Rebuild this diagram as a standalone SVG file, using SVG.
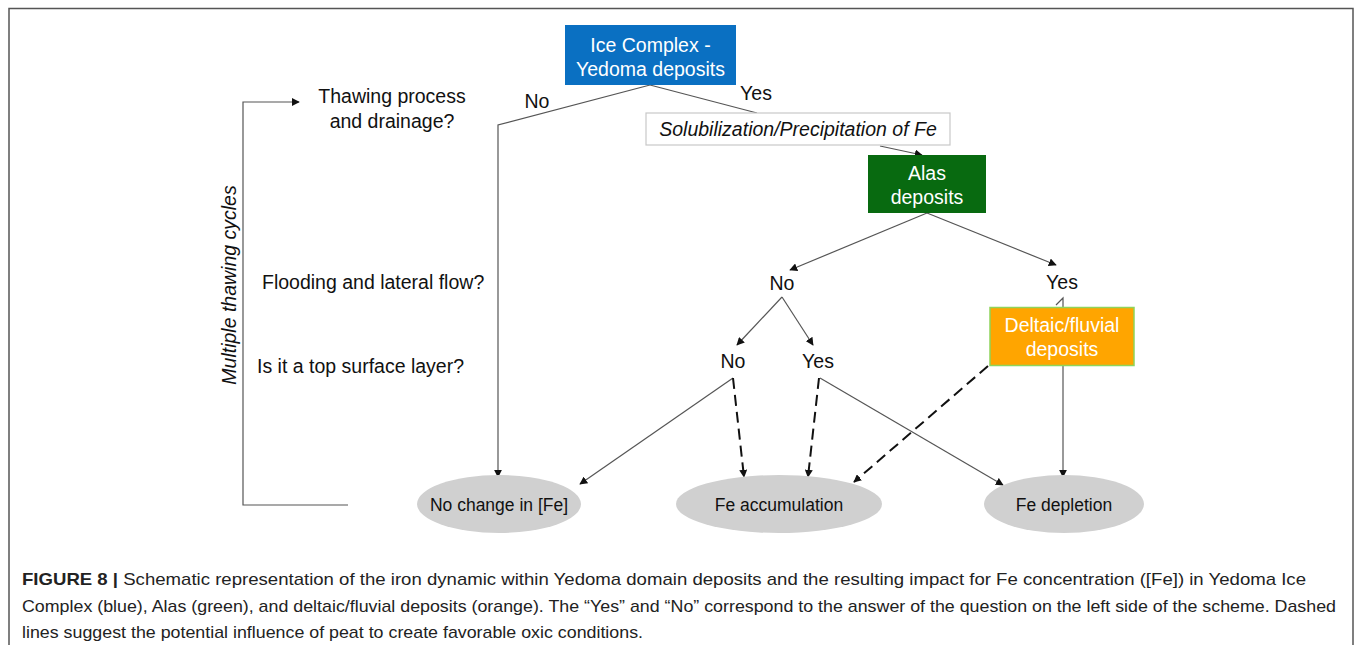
<svg xmlns="http://www.w3.org/2000/svg" width="1355" height="645" viewBox="0 0 1355 645">
<style>
.t{font-family:"Liberation Sans",Arial,sans-serif;font-size:19.5px;fill:#111}
.e{font-size:17.5px}
.w{fill:#fff}
.c{text-anchor:middle}
.it{font-style:italic}
.ln{stroke:#555;stroke-width:1.2;fill:none}
.ds{stroke:#111;stroke-width:2;fill:none;stroke-dasharray:11 6}
.cap{font-family:"Liberation Sans",Arial,sans-serif;font-size:17px;fill:#222}
.ell{fill:#d0d0d0}
</style>
<defs>
<marker id="ah" viewBox="0 0 10 10" refX="9" refY="5" markerWidth="8" markerHeight="8" markerUnits="userSpaceOnUse" orient="auto">
<path d="M0,0 L10,5 L0,10 z" fill="#111"/>
</marker>
</defs>
<rect x="0" y="0" width="1355" height="645" fill="#fff"/>
<rect x="9" y="8.5" width="1344" height="660" fill="none" stroke="#555" stroke-width="1.5"/>

<g id="connectors">
<polyline class="ln" points="650,85 498,125 498,477" marker-end="url(#ah)"/>
<line class="ln" x1="650" y1="85" x2="757" y2="113"/>
<line class="ln" x1="880" y1="146" x2="922" y2="155" marker-end="url(#ah)"/>
<line class="ln" x1="927" y1="213" x2="790" y2="270" marker-end="url(#ah)"/>
<line class="ln" x1="927" y1="213" x2="1056" y2="265" marker-end="url(#ah)"/>
<polyline class="ln" points="1056,305 1063,298 1063,307"/>
<line class="ln" x1="1063" y1="366" x2="1063" y2="477" marker-end="url(#ah)"/>
<line class="ds" x1="988" y1="366" x2="854" y2="482" marker-end="url(#ah)"/>
<line class="ln" x1="782" y1="297" x2="737" y2="345" marker-end="url(#ah)"/>
<line class="ln" x1="782" y1="297" x2="813" y2="345" marker-end="url(#ah)"/>
<line class="ln" x1="733" y1="378" x2="580" y2="484" marker-end="url(#ah)"/>
<line class="ds" x1="733" y1="378" x2="744" y2="477" marker-end="url(#ah)"/>
<line class="ds" x1="819" y1="378" x2="808" y2="477" marker-end="url(#ah)"/>
<line class="ln" x1="820" y1="378" x2="1003" y2="485" marker-end="url(#ah)"/>
<polyline class="ln" points="348,505 243,505 243,102 299,102" marker-end="url(#ah)"/>
</g>

<g id="ice-complex">
<rect x="565" y="25" width="171" height="60" fill="#0a70c2"/>
<text class="t w c" x="650.5" y="52">Ice Complex -</text>
<text class="t w c" x="650.5" y="76">Yedoma deposits</text>
</g>
<g id="solubilization">
<rect x="646" y="113" width="304" height="32" fill="#fff" stroke="#c8c8c8" stroke-width="1.2"/>
<text class="t it c" x="798" y="136">Solubilization/Precipitation of Fe</text>
</g>
<g id="alas">
<rect x="868" y="155" width="118" height="58" fill="#086a10"/>
<text class="t w c" x="927" y="180">Alas</text>
<text class="t w c" x="927" y="204">deposits</text>
</g>
<g id="deltaic">
<rect x="990" y="307.5" width="144" height="58" fill="#ffa500" stroke="#8fd45a" stroke-width="1.5"/>
<text class="t w c" x="1062" y="332">Deltaic/fluvial</text>
<text class="t w c" x="1062" y="356">deposits</text>
</g>

<g id="labels">
<text class="t c" x="392" y="103">Thawing process</text>
<text class="t c" x="392" y="128">and drainage?</text>
<text class="t" x="262" y="289">Flooding and lateral flow?</text>
<text class="t" x="257" y="373">Is it a top surface layer?</text>
<text class="t it c" transform="translate(236,285) rotate(-90)">Multiple thawing cycles</text>
<text class="t c" x="537" y="108">No</text>
<text class="t c" x="756" y="100">Yes</text>
<text class="t c" x="782" y="290">No</text>
<text class="t c" x="1062" y="289">Yes</text>
<text class="t c" x="733" y="368">No</text>
<text class="t c" x="818" y="368">Yes</text>
</g>

<g id="no-change">
<ellipse class="ell" cx="499" cy="504" rx="82" ry="29"/>
<text class="t e c" x="499" y="510.5">No change in [Fe]</text>
</g>
<g id="fe-accumulation">
<ellipse class="ell" cx="779" cy="504" rx="103" ry="29"/>
<text class="t e c" x="779" y="510.5">Fe accumulation</text>
</g>
<g id="fe-depletion">
<ellipse class="ell" cx="1064" cy="504" rx="80" ry="29"/>
<text class="t e c" x="1064" y="510.5">Fe depletion</text>
</g>

<g id="caption">
<text class="cap" x="22" y="585" textLength="1284" lengthAdjust="spacingAndGlyphs"><tspan font-weight="bold">FIGURE 8 |</tspan> Schematic representation of the iron dynamic within Yedoma domain deposits and the resulting impact for Fe concentration ([Fe]) in Yedoma Ice</text>
<text class="cap" x="22" y="612" textLength="1314" lengthAdjust="spacingAndGlyphs">Complex (blue), Alas (green), and deltaic/fluvial deposits (orange). The “Yes” and “No” correspond to the answer of the question on the left side of the scheme. Dashed</text>
<text class="cap" x="22" y="638" textLength="621" lengthAdjust="spacingAndGlyphs">lines suggest the potential influence of peat to create favorable oxic conditions.</text>
</g>
</svg>
